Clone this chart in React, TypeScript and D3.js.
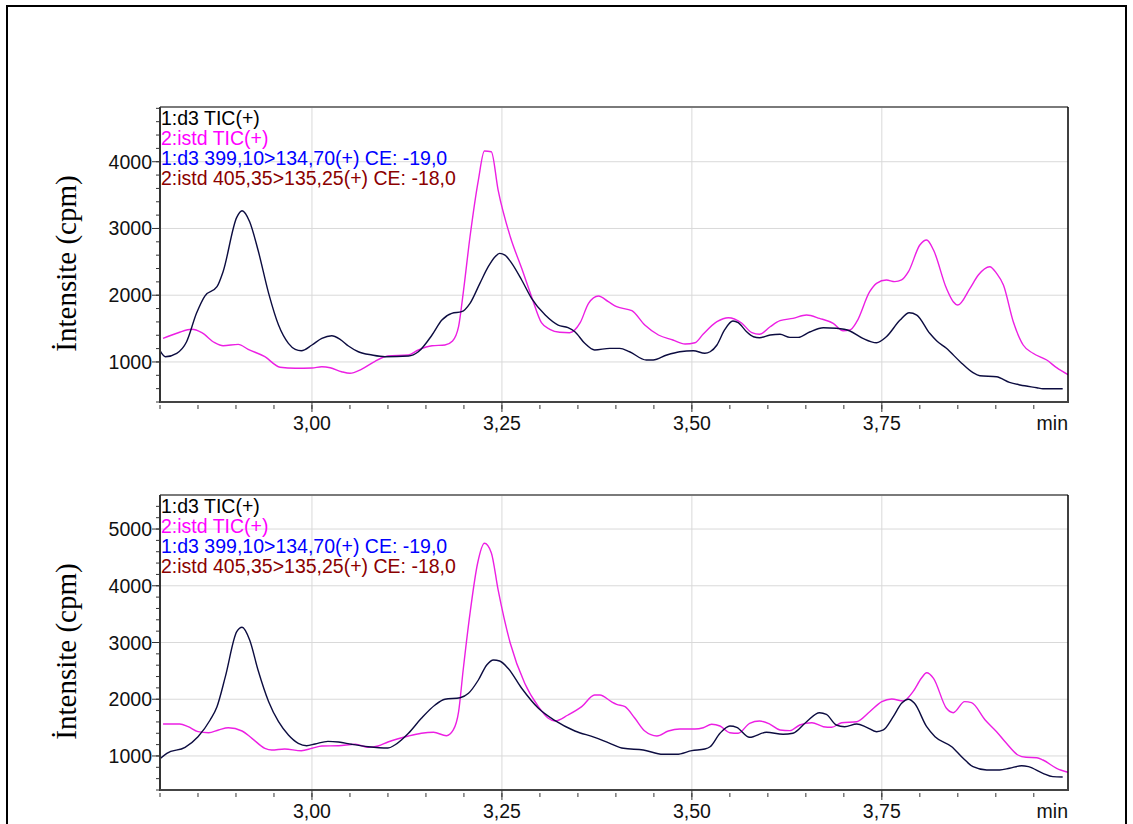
import React, { useEffect, useRef } from 'react';
import * as d3 from 'd3';

// legend rows shown in the top-left corner of each panel
const legendLines = [
  '1:d3 TIC(+)',
  '2:istd TIC(+)',
  '1:d3 399,10>134,70(+) CE: -19,0',
  '2:istd 405,35>135,25(+) CE: -18,0',
];
const legendColors = ['#000000', '#ff00ff', '#0000ff', '#8b0000'];

const xMajorTicks = [3.0, 3.25, 3.5, 3.75];
const xTickLabels = ['3,00', '3,25', '3,50', '3,75'];
const topYTicks = [1000, 2000, 3000, 4000];
const bottomYTicks = [1000, 2000, 3000, 4000, 5000];

// [time (min), intensity (cpm)]
const topD3Tic: [number, number][] = [
  [2.800, 1170], [2.807, 1079], [2.822, 1130], [2.835, 1303], [2.848, 1729], [2.859, 1988],
  [2.875, 2127], [2.883, 2352], [2.901, 3167], [2.908, 3266], [2.918, 3101], [2.929, 2677],
  [2.943, 2028], [2.956, 1553], [2.969, 1279], [2.978, 1189], [2.986, 1168], [3.000, 1254],
  [3.013, 1354], [3.026, 1393], [3.037, 1339], [3.048, 1239], [3.061, 1153], [3.079, 1104],
  [3.096, 1079], [3.127, 1089], [3.140, 1153], [3.158, 1404], [3.171, 1628], [3.184, 1729],
  [3.197, 1753], [3.208, 1878], [3.221, 2178], [3.232, 2427], [3.241, 2577], [3.247, 2627],
  [3.254, 2602], [3.263, 2477], [3.276, 2228], [3.289, 1953], [3.307, 1703], [3.324, 1553],
  [3.337, 1513], [3.346, 1453], [3.359, 1279], [3.372, 1179], [3.392, 1204], [3.405, 1204],
  [3.418, 1153], [3.440, 1029], [3.449, 1029], [3.467, 1104], [3.484, 1153], [3.502, 1168],
  [3.517, 1130], [3.524, 1153], [3.533, 1254], [3.543, 1479], [3.554, 1613], [3.561, 1588],
  [3.572, 1453], [3.581, 1378], [3.589, 1363], [3.603, 1404], [3.616, 1414], [3.629, 1369],
  [3.640, 1369], [3.655, 1449], [3.673, 1513], [3.690, 1504], [3.708, 1464], [3.725, 1354],
  [3.743, 1288], [3.756, 1378], [3.774, 1628], [3.786, 1738], [3.796, 1703], [3.813, 1429],
  [3.822, 1318], [3.835, 1204], [3.853, 1004], [3.870, 839], [3.879, 794], [3.901, 779],
  [3.918, 695], [3.932, 655], [3.954, 614], [3.962, 599], [3.988, 599],
];

const topIstdTic: [number, number][] = [
  [2.804, 1354], [2.824, 1438], [2.842, 1489], [2.855, 1438], [2.872, 1288], [2.883, 1243],
  [2.903, 1264], [2.916, 1189], [2.938, 1079], [2.958, 920], [2.978, 905], [3.000, 909],
  [3.013, 929], [3.024, 914], [3.039, 854], [3.050, 830], [3.065, 890], [3.083, 1010],
  [3.100, 1089], [3.127, 1104], [3.140, 1179], [3.158, 1243], [3.175, 1254], [3.185, 1314],
  [3.193, 1533], [3.199, 2028], [3.208, 2876], [3.219, 3726], [3.227, 4160], [3.236, 4150],
  [3.245, 3576], [3.261, 2876], [3.276, 2403], [3.289, 1978], [3.302, 1588], [3.313, 1489],
  [3.326, 1444], [3.339, 1438], [3.353, 1588], [3.364, 1878], [3.377, 1988], [3.390, 1903],
  [3.401, 1828], [3.421, 1768], [3.438, 1553], [3.456, 1404], [3.475, 1329], [3.491, 1269],
  [3.504, 1288], [3.515, 1419], [3.533, 1603], [3.548, 1663], [3.565, 1588], [3.579, 1438],
  [3.589, 1414], [3.603, 1528], [3.616, 1618], [3.633, 1653], [3.651, 1703], [3.668, 1653],
  [3.686, 1578], [3.699, 1468], [3.708, 1479], [3.717, 1603], [3.734, 2053], [3.743, 2178],
  [3.756, 2228], [3.767, 2203], [3.776, 2228], [3.785, 2352], [3.800, 2752], [3.809, 2827],
  [3.818, 2677], [3.835, 2103], [3.844, 1903], [3.850, 1853], [3.866, 2103], [3.877, 2303],
  [3.892, 2427], [3.901, 2328], [3.910, 2153], [3.923, 1603], [3.936, 1254], [3.949, 1130],
  [3.967, 1029], [3.980, 914], [3.995, 810],
];

const bottomD3Tic: [number, number][] = [
  [2.800, 950], [2.809, 1047], [2.833, 1153], [2.850, 1340], [2.866, 1634], [2.875, 1869],
  [2.886, 2398], [2.901, 3191], [2.908, 3268], [2.918, 3044], [2.929, 2516], [2.943, 1957],
  [2.956, 1604], [2.969, 1370], [2.982, 1223], [2.993, 1181], [3.004, 1211], [3.021, 1258],
  [3.035, 1246], [3.052, 1206], [3.074, 1163], [3.100, 1140], [3.109, 1193], [3.127, 1400],
  [3.144, 1664], [3.162, 1899], [3.175, 1999], [3.195, 2027], [3.206, 2105], [3.219, 2339],
  [3.230, 2604], [3.239, 2692], [3.247, 2674], [3.258, 2546], [3.276, 2193], [3.298, 1840],
  [3.320, 1622], [3.346, 1440], [3.372, 1329], [3.392, 1223], [3.410, 1135], [3.436, 1105],
  [3.462, 1029], [3.480, 1029], [3.500, 1093], [3.517, 1123], [3.524, 1163], [3.537, 1400],
  [3.550, 1528], [3.559, 1505], [3.576, 1329], [3.598, 1417], [3.620, 1382], [3.633, 1400],
  [3.651, 1604], [3.668, 1763], [3.677, 1734], [3.690, 1546], [3.701, 1516], [3.717, 1563],
  [3.730, 1505], [3.743, 1428], [3.752, 1458], [3.765, 1692], [3.776, 1928], [3.785, 1999],
  [3.793, 1928], [3.809, 1516], [3.820, 1340], [3.842, 1163], [3.857, 959], [3.870, 811],
  [3.888, 753], [3.905, 753], [3.918, 783], [3.934, 828], [3.943, 811], [3.962, 694],
  [3.975, 635], [3.988, 629],
];

const bottomIstdTic: [number, number][] = [
  [2.804, 1564], [2.826, 1564], [2.837, 1516], [2.850, 1428], [2.864, 1410], [2.877, 1458],
  [2.890, 1498], [2.908, 1440], [2.921, 1311], [2.938, 1135], [2.947, 1105], [2.964, 1123],
  [2.986, 1093], [3.000, 1135], [3.013, 1176], [3.035, 1181], [3.057, 1206], [3.074, 1153],
  [3.087, 1176], [3.100, 1246], [3.127, 1352], [3.144, 1400], [3.160, 1417], [3.177, 1357],
  [3.186, 1458], [3.193, 1780], [3.199, 2516], [3.208, 3515], [3.218, 4397], [3.227, 4749],
  [3.236, 4584], [3.245, 3926], [3.261, 2986], [3.280, 2281], [3.298, 1869], [3.311, 1664],
  [3.320, 1616], [3.337, 1722], [3.355, 1869], [3.372, 2075], [3.379, 2075], [3.394, 1957],
  [3.401, 1911], [3.412, 1869], [3.425, 1664], [3.438, 1440], [3.454, 1352], [3.469, 1440],
  [3.484, 1475], [3.504, 1475], [3.515, 1498], [3.526, 1558], [3.537, 1528], [3.550, 1410],
  [3.561, 1400], [3.576, 1576], [3.589, 1616], [3.603, 1558], [3.616, 1458], [3.629, 1446],
  [3.642, 1546], [3.658, 1586], [3.673, 1516], [3.684, 1505], [3.697, 1586], [3.717, 1604],
  [3.734, 1780], [3.750, 1957], [3.763, 2004], [3.778, 1969], [3.791, 2133], [3.802, 2369],
  [3.809, 2468], [3.818, 2369], [3.835, 1840], [3.844, 1763], [3.859, 1957], [3.868, 1939],
  [3.886, 1634], [3.901, 1428], [3.914, 1223], [3.929, 1017], [3.940, 976], [3.954, 969],
  [3.962, 929], [3.980, 783], [3.995, 712],
];

const SANS = 'Liberation Sans, Arial, sans-serif';
const SERIF = 'Liberation Serif, Times New Roman, serif';

type Panel = {
  id: string;
  top: number;
  yMax: number;
  yTicks: number[];
  d3Tic: [number, number][];
  istdTic: [number, number][];
};

const drawPanel = (svg: any, p: Panel) => {
  const left = 160;
  const right = 1068;
  const bottom = p.top + 295;

  const x = d3.scaleLinear().domain([2.8, 3.995]).range([left, right]);
  const y = d3.scaleLinear().domain([400, p.yMax]).range([bottom, p.top]);

  const g = svg.append('g');

  g.append('clipPath').attr('id', `clip-${p.id}`)
    .append('rect').attr('x', left).attr('y', p.top).attr('width', right - left).attr('height', bottom - p.top);

  // grid
  g.selectAll('.hgrid').data(p.yTicks).enter().append('line')
    .attr('x1', left).attr('x2', right)
    .attr('y1', d => y(d)).attr('y2', d => y(d))
    .attr('stroke', '#d9d9d9').attr('stroke-width', 1);
  g.selectAll('.vgrid').data(xMajorTicks).enter().append('line')
    .attr('x1', d => x(d)).attr('x2', d => x(d))
    .attr('y1', p.top).attr('y2', bottom)
    .attr('stroke', '#d9d9d9').attr('stroke-width', 1);

  // traces
  const line = d3.line<[number, number]>()
    .x(d => x(d[0])).y(d => y(d[1]))
    .curve(d3.curveMonotoneX);
  const traces = g.append('g').attr('clip-path', `url(#clip-${p.id})`);
  traces.append('path').attr('d', line(p.istdTic)).attr('fill', 'none')
    .attr('stroke', '#ec1fe3').attr('stroke-width', 1.4);
  traces.append('path').attr('d', line(p.d3Tic)).attr('fill', 'none')
    .attr('stroke', '#0c0c40').attr('stroke-width', 1.4);

  // frame
  g.append('line').attr('x1', left).attr('x2', right).attr('y1', p.top).attr('y2', p.top)
    .attr('stroke', '#7a7a7a').attr('stroke-width', 2);
  g.append('line').attr('x1', right).attr('x2', right).attr('y1', p.top).attr('y2', bottom)
    .attr('stroke', '#000').attr('stroke-width', 1.5);
  g.append('line').attr('x1', left).attr('x2', left).attr('y1', p.top).attr('y2', bottom + 1)
    .attr('stroke', '#333').attr('stroke-width', 2);
  g.append('line').attr('x1', left).attr('x2', right + 1).attr('y1', bottom).attr('y2', bottom)
    .attr('stroke', '#444').attr('stroke-width', 2);

  // y ticks
  const yMinor = d3.range(400, p.yMax, 200);
  g.selectAll('.ymin').data(yMinor).enter().append('line')
    .attr('x1', left - 4).attr('x2', left)
    .attr('y1', d => y(d)).attr('y2', d => y(d))
    .attr('stroke', '#333').attr('stroke-width', 1);
  g.selectAll('.ymaj').data(p.yTicks).enter().append('line')
    .attr('x1', left - 8).attr('x2', left)
    .attr('y1', d => y(d)).attr('y2', d => y(d))
    .attr('stroke', '#333').attr('stroke-width', 1);
  g.selectAll('.ylab').data(p.yTicks).enter().append('text')
    .attr('x', left - 8).attr('y', d => y(d)).attr('dy', '0.36em')
    .attr('text-anchor', 'end').attr('font-family', SANS).attr('font-size', 19.5)
    .attr('fill', '#111').text(d => String(d));

  // x ticks
  const xMinor = d3.range(2.8, 3.99, 0.05);
  g.selectAll('.xmin').data(xMinor).enter().append('line')
    .attr('x1', d => x(d)).attr('x2', d => x(d))
    .attr('y1', bottom + 3).attr('y2', bottom + 7)
    .attr('stroke', '#333').attr('stroke-width', 1);
  g.selectAll('.xmaj').data(xMajorTicks).enter().append('line')
    .attr('x1', d => x(d)).attr('x2', d => x(d))
    .attr('y1', bottom).attr('y2', bottom + 10)
    .attr('stroke', '#333').attr('stroke-width', 1);
  g.selectAll('.xlab').data(xMajorTicks).enter().append('text')
    .attr('x', d => x(d)).attr('y', bottom + 28)
    .attr('text-anchor', 'middle').attr('font-family', SANS).attr('font-size', 19.5)
    .attr('fill', '#111').text((d, i) => xTickLabels[i]);
  g.append('text').attr('x', right).attr('y', bottom + 28)
    .attr('text-anchor', 'end').attr('font-family', SANS).attr('font-size', 19.5)
    .attr('fill', '#111').text('min');

  // legend
  g.selectAll('.leg').data(legendLines).enter().append('text')
    .attr('x', left + 1).attr('y', (d, i) => p.top + 18 + i * 20)
    .attr('font-family', SANS).attr('font-size', 19.5)
    .attr('fill', (d, i) => legendColors[i]).text(d => d);

  // y axis title
  const cy = (p.top + bottom) / 2 + 9;
  g.append('text')
    .attr('transform', `translate(76,${cy}) rotate(-90)`)
    .attr('text-anchor', 'middle').attr('font-family', SERIF).attr('font-size', 29)
    .attr('fill', '#000').text('İntensite (cpm)');
};

const App = () => {
  const svgRef = useRef<SVGSVGElement>(null);

  useEffect(() => {
    const svg = d3.select(svgRef.current);
    svg.selectAll('*').remove();

    svg.append('rect').attr('width', 1133).attr('height', 824).attr('fill', '#fff');
    svg.append('rect').attr('x', 7).attr('y', 6).attr('width', 1119).attr('height', 840)
      .attr('fill', 'none').attr('stroke', '#000').attr('stroke-width', 2);

    drawPanel(svg, { id: 'top', top: 107, yMax: 4820, yTicks: topYTicks, d3Tic: topD3Tic, istdTic: topIstdTic });
    drawPanel(svg, { id: 'bottom', top: 495, yMax: 5600, yTicks: bottomYTicks, d3Tic: bottomD3Tic, istdTic: bottomIstdTic });
  }, []);

  return (
    <svg ref={svgRef} width={1133} height={824}
      style={{ position: 'absolute', left: 0, top: 0, display: 'block' }} />
  );
};

export default App;
